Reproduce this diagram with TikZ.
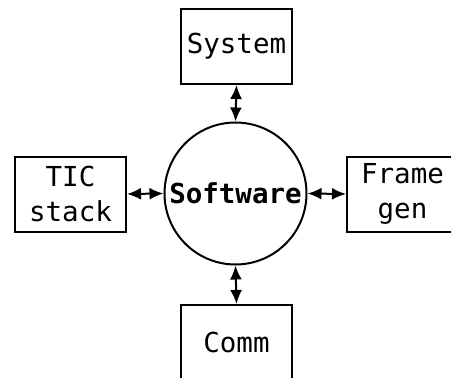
\documentclass[tikz,border=0pt]{standalone}
\usepackage{fontspec}
\setmonofont{DejaVu Sans Mono}
\usetikzlibrary{arrows.meta}
\tikzset{
  box/.style={draw, line width=2pt, minimum width=111pt, minimum height=75pt, inner sep=0pt,
    font=\fontsize{27.5}{35}\selectfont\ttfamily, align=center},
  hub/.style={draw, circle, line width=2pt, minimum size=142pt, inner sep=0pt,
    font=\fontsize{27.5}{35}\selectfont\ttfamily\bfseries},
  tip/.style={Latex[length=14pt,width=12pt]},
  link/.style={line width=2pt, {Latex[length=14pt,width=12pt]}-{Latex[length=14pt,width=12pt]}}
}
\begin{document}
\begin{tikzpicture}[x=1pt,y=-1pt]
\useasboundingbox (0,0) rectangle (451,378);
\node[hub] (sw) at (235.5,193.5) {Software};
\node[box] (sys) at (236.5,46.5) {System};
\node[box] (tic) at (70.5,194) {TIC\\stack};
\node[box] (frm) at (402.5,194) {Frame\\gen};
\node[box] (com) at (236.5,342.5) {Comm};
\draw[link] (sys.south) -- (sw.north);
\draw[link] (tic.east) -- (sw.west);
\draw[link] (sw.east) -- (frm.west);
\draw[link] (sw.south) -- (com.north);
\end{tikzpicture}
\end{document}
